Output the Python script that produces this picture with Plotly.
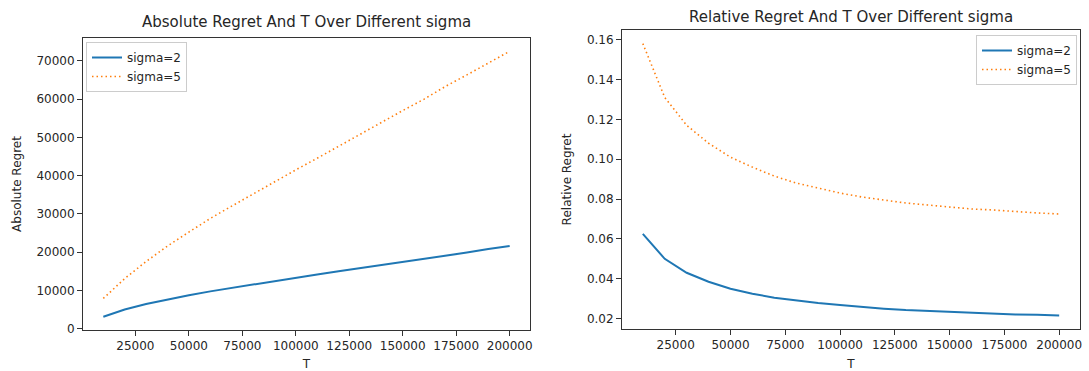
import plotly.graph_objects as go

T = [10000, 20000, 30000, 40000, 50000, 60000, 70000, 80000, 90000, 100000,
     110000, 120000, 130000, 140000, 150000, 160000, 170000, 180000, 190000, 200000]

abs_sigma2 = [3125, 5000, 6450, 7700, 8750, 9750, 10675, 11600, 12510, 13400,
              14190, 15000, 15795, 16660, 17475, 18240, 19040, 19890, 20805, 21600]
abs_sigma5 = [7900, 13100, 17550, 21600, 25250, 28800, 32025, 35200, 38475, 41500,
              44550, 47700, 50700, 53900, 57000, 60000, 63325, 66330, 69350, 72500]

rel_sigma2 = [0.0625, 0.050, 0.043, 0.0385, 0.035, 0.0325, 0.0305, 0.029, 0.0278, 0.0268,
              0.0258, 0.025, 0.0243, 0.0238, 0.0233, 0.0228, 0.0224, 0.0221, 0.0219, 0.0216]
rel_sigma5 = [0.158, 0.131, 0.117, 0.108, 0.101, 0.096, 0.0915, 0.088, 0.0855, 0.083,
              0.081, 0.0795, 0.078, 0.077, 0.076, 0.075, 0.0745, 0.0737, 0.073, 0.0725]

x_ticks = [25000, 50000, 75000, 100000, 125000, 150000, 175000, 200000]
abs_ticks = [0, 10000, 20000, 30000, 40000, 50000, 60000, 70000]
rel_ticks = [0.02, 0.04, 0.06, 0.08, 0.10, 0.12, 0.14, 0.16]

W, H = 1089, 371
BLUE = "#1f77b4"
ORANGE = "#ff7f0e"
FONT = "DejaVu Sans"
TXT = "#262626"
DOT = "1.5px,3px"

fig = go.Figure()
fig.add_trace(go.Scatter(x=T, y=abs_sigma2, mode="lines", name="sigma=2",
                         line=dict(color=BLUE, width=2), xaxis="x", yaxis="y", legend="legend"))
fig.add_trace(go.Scatter(x=T, y=abs_sigma5, mode="lines", name="sigma=5",
                         line=dict(color=ORANGE, width=1.6, dash=DOT), xaxis="x", yaxis="y", legend="legend"))
fig.add_trace(go.Scatter(x=T, y=rel_sigma2, mode="lines", name="sigma=2",
                         line=dict(color=BLUE, width=2), xaxis="x2", yaxis="y2", legend="legend2"))
fig.add_trace(go.Scatter(x=T, y=rel_sigma5, mode="lines", name="sigma=5",
                         line=dict(color=ORANGE, width=1.6, dash=DOT), xaxis="x2", yaxis="y2", legend="legend2"))

def rng(vals_lists):
    lo = min(min(v) for v in vals_lists)
    hi = max(max(v) for v in vals_lists)
    m = (hi - lo) * 0.05
    return [lo - m, hi + m]

axis_common = dict(showgrid=False, zeroline=False, showline=True, mirror=True,
                   linecolor="#333333", linewidth=1, ticks="outside", ticklen=5,
                   tickcolor="#333333", tickfont=dict(family=FONT, size=12, color=TXT),
                   automargin=False)

xl0, xl1 = 83 / W, 530 / W
xr0, xr1 = 622 / W, 1080 / W
yl0, yl1 = (H - 330) / H, (H - 38) / H
yr0, yr1 = (H - 329) / H, (H - 30) / H

fig.update_layout(
    width=W, height=H,
    margin=dict(l=0, r=0, t=0, b=0),
    paper_bgcolor="white", plot_bgcolor="white",
    font=dict(family=FONT, size=12, color=TXT),
    xaxis=dict(domain=[xl0, xl1], range=rng([T]), tickvals=x_ticks,
               ticktext=[str(v) for v in x_ticks], anchor="y",
               title=dict(text="T", font=dict(family=FONT, size=12, color=TXT), standoff=8),
               **axis_common),
    yaxis=dict(domain=[yl0, yl1], range=rng([abs_sigma2, abs_sigma5]), tickvals=abs_ticks,
               ticktext=[str(v) for v in abs_ticks], anchor="x",
               title=dict(text="Absolute Regret", font=dict(family=FONT, size=12, color=TXT), standoff=12),
               **axis_common),
    xaxis2=dict(domain=[xr0, xr1], range=rng([T]), tickvals=x_ticks,
                ticktext=[str(v) for v in x_ticks], anchor="y2",
                title=dict(text="T", font=dict(family=FONT, size=12, color=TXT), standoff=8),
                **axis_common),
    yaxis2=dict(domain=[yr0, yr1], range=rng([rel_sigma2, rel_sigma5]), tickvals=rel_ticks,
                ticktext=[f"{v:.2f}" for v in rel_ticks], anchor="x2",
                title=dict(text="Relative Regret", font=dict(family=FONT, size=12, color=TXT), standoff=12),
                **axis_common),
    legend=dict(x=86 / W, y=(H - 42) / H, xanchor="left", yanchor="top",
                bgcolor="rgba(255,255,255,0.9)", bordercolor="#cccccc", borderwidth=1,
                font=dict(family=FONT, size=12, color=TXT), tracegroupgap=0,
                itemwidth=30),
    legend2=dict(x=1077 / W, y=(H - 35) / H, xanchor="right", yanchor="top",
                 bgcolor="rgba(255,255,255,0.9)", bordercolor="#cccccc", borderwidth=1,
                 font=dict(family=FONT, size=12, color=TXT), tracegroupgap=0,
                 itemwidth=30),
    showlegend=True,
    annotations=[
        dict(text="Absolute Regret And T Over Different sigma", x=(xl0 + xl1) / 2, y=(H - 22) / H,
             xref="paper", yref="paper", xanchor="center", yanchor="middle", showarrow=False,
             font=dict(family=FONT, size=15, color=TXT)),
        dict(text="Relative Regret And T Over Different sigma", x=(xr0 + xr1) / 2, y=(H - 17) / H,
             xref="paper", yref="paper", xanchor="center", yanchor="middle", showarrow=False,
             font=dict(family=FONT, size=15, color=TXT)),
    ],
)

fig.write_html("out.html")
